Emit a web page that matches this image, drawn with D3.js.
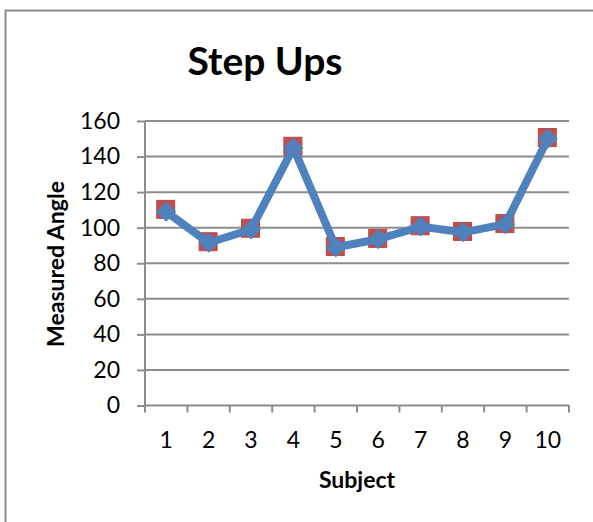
<!DOCTYPE html>
<html>
<head>
<meta charset="utf-8">
<script src="https://cdn.jsdelivr.net/npm/d3@7"></script>
<style>
  body { margin: 0; background: #fff; }
  svg { display: block; }
</style>
</head>
<body>
<svg id="chart" width="593" height="522"></svg>
<script>
// Chart data
const subjects = ['1', '2', '3', '4', '5', '6', '7', '8', '9', '10'];
const angleSeriesA = [109, 91.5, 99, 145, 89, 93.5, 100.6, 97.4, 102, 150];   // blue diamonds + line
const angleSeriesB = [110.3, 92.1, 99.7, 145.8, 89.4, 94, 101.1, 97.9, 102.3, 150.7]; // red squares
const yTicks = [0, 20, 40, 60, 80, 100, 120, 140, 160];

const svg = d3.select('#chart');
const font = 'Lato, "Open Sans", sans-serif';
const gray = '#8c8c8c';

// Outer chart frame (continues past the right/bottom edge)
svg.append('rect')
  .attr('x', 5.5).attr('y', 10.5)
  .attr('width', 700).attr('height', 600)
  .style('fill', 'none')
  .style('stroke', gray)
  .style('stroke-width', 2);

const plot = { left: 145, right: 569, top: 121, bottom: 405.5 };

const x = d3.scaleBand()
  .domain(subjects)
  .range([plot.left, plot.right]);

const y = d3.scaleLinear()
  .domain([0, 160])
  .range([plot.bottom, plot.top]);

// Gridlines + y ticks
const yAxis = svg.append('g')
  .attr('transform', `translate(${plot.left},0)`)
  .call(d3.axisLeft(y).tickValues(yTicks).tickSize(8).tickPadding(17));
yAxis.select('.domain').remove();
yAxis.selectAll('line').style('stroke', gray).style('stroke-width', 2);
yAxis.selectAll('text')
  .style('font-family', font)
  .style('font-size', '23px')
  .style('fill', '#000');

svg.append('g').selectAll('line')
  .data(yTicks)
  .enter().append('line')
  .attr('x1', plot.left).attr('x2', plot.right)
  .attr('y1', d => y(d)).attr('y2', d => y(d))
  .style('stroke', gray)
  .style('stroke-width', 2);

// y axis line
svg.append('line')
  .attr('x1', plot.left).attr('x2', plot.left)
  .attr('y1', plot.top).attr('y2', plot.bottom)
  .style('stroke', gray).style('stroke-width', 2);

// x axis: ticks at category boundaries
const boundaries = subjects.map(s => x(s)).concat([plot.right]);
svg.append('g').selectAll('line')
  .data(boundaries)
  .enter().append('line')
  .attr('x1', d => d).attr('x2', d => d)
  .attr('y1', plot.bottom).attr('y2', plot.bottom + 7)
  .style('stroke', gray).style('stroke-width', 2);

svg.append('g').selectAll('text')
  .data(subjects)
  .enter().append('text')
  .attr('x', d => x(d) + x.bandwidth() / 2)
  .attr('y', 448)
  .attr('text-anchor', 'middle')
  .style('font-family', font)
  .style('font-size', '23px')
  .text(d => d);

// Titles
svg.append('text')
  .attr('x', 265).attr('y', 75)
  .attr('text-anchor', 'middle')
  .style('font-family', font)
  .style('font-weight', 'bold')
  .style('font-size', '39px')
  .text('Step Ups');

svg.append('text')
  .attr('x', 357).attr('y', 488)
  .attr('text-anchor', 'middle')
  .style('font-family', font)
  .style('font-weight', 'bold')
  .style('font-size', '23px')
  .text('Subject');

svg.append('text')
  .attr('transform', 'translate(64,264) rotate(-90)')
  .attr('text-anchor', 'middle')
  .style('font-family', font)
  .style('font-weight', 'bold')
  .style('font-size', '23px')
  .text('Measured Angle');

const cx = i => x(subjects[i]) + x.bandwidth() / 2;

// Red square markers (behind)
svg.append('g').selectAll('rect')
  .data(angleSeriesB)
  .enter().append('rect')
  .attr('x', (d, i) => cx(i) - 9.5)
  .attr('y', d => y(d) - 9)
  .attr('width', 18).attr('height', 18)
  .style('fill', '#C0504D')
  .style('stroke', '#b84a47')
  .style('stroke-width', 1);

// Blue line with diamonds
const line = d3.line()
  .x((d, i) => cx(i))
  .y(d => y(d));

svg.append('path')
  .datum(angleSeriesA)
  .attr('d', line)
  .style('fill', 'none')
  .style('stroke', '#4F81BD')
  .style('stroke-width', 8)
  .style('stroke-linejoin', 'round');

svg.append('g').selectAll('path')
  .data(angleSeriesA)
  .enter().append('path')
  .attr('transform', (d, i) => `translate(${cx(i)},${y(d)})`)
  .attr('d', 'M0,-10L10,0L0,10L-10,0Z')
  .style('fill', '#4F81BD');
</script>
</body>
</html>
